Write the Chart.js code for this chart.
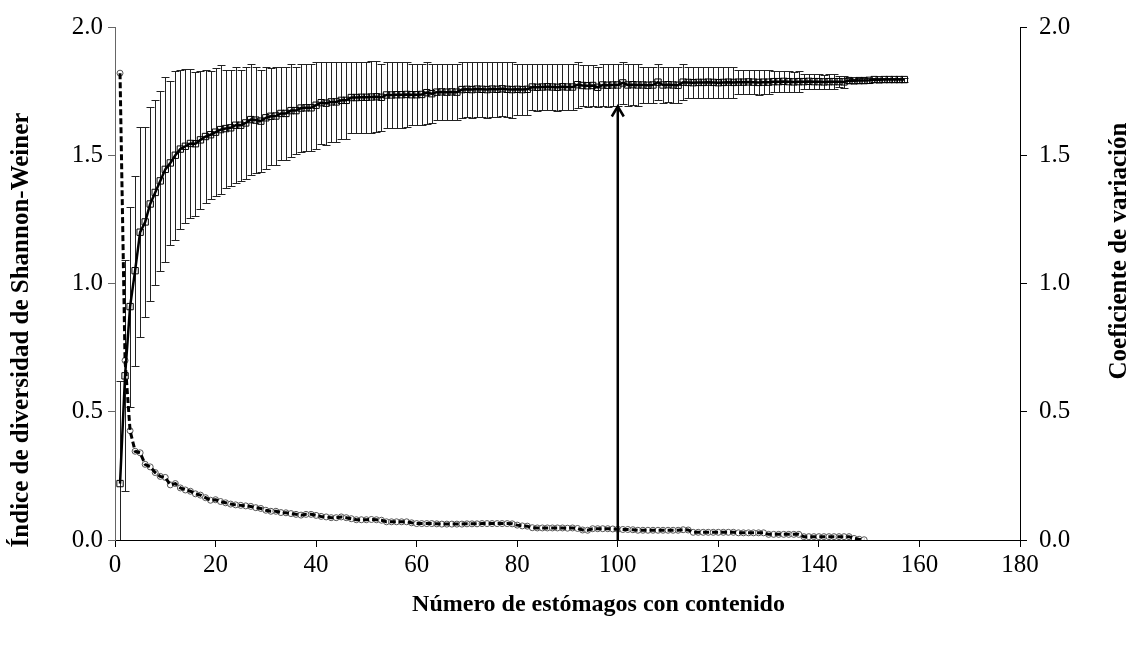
<!DOCTYPE html>
<html>
<head>
<meta charset="utf-8">
<script src="https://cdn.jsdelivr.net/npm/chart.js@4.4.1/dist/chart.umd.min.js"></script>
<style>
  html, body { margin: 0; padding: 0; background: #ffffff; }
  #wrap { width: 1133px; height: 645px; }
</style>
</head>
<body>
<div id="wrap"><canvas id="grafico" width="1133" height="645"></canvas></div>
<script>
// Número de estómagos con contenido (eje X)
const estomagos = [
  1,2,3,4,5,6,7,8,9,10,11,12,13,14,15,16,17,18,19,20,
  21,22,23,24,25,26,27,28,29,30,31,32,33,34,35,36,37,38,39,40,
  41,42,43,44,45,46,47,48,49,50,51,52,53,54,55,56,57,58,59,60,
  61,62,63,64,65,66,67,68,69,70,71,72,73,74,75,76,77,78,79,80,
  81,82,83,84,85,86,87,88,89,90,91,92,93,94,95,96,97,98,99,100,
  101,102,103,104,105,106,107,108,109,110,111,112,113,114,115,116,117,118,119,120,
  121,122,123,124,125,126,127,128,129,130,131,132,133,134,135,136,137,138,139,140,
  141,142,143,144,145,146,147,148,149,150,151,152,153,154,155,156,157
];

// Índice de diversidad de Shannon-Weiner (media acumulada)
const shannonMedia = [
  0.22,0.64,0.91,1.05,1.20,1.24,1.31,1.355,1.40,1.445,
  1.47,1.50,1.524,1.535,1.546,1.545,1.56,1.573,1.58,1.59,
  1.60,1.604,1.607,1.617,1.617,1.626,1.639,1.637,1.633,1.646,
  1.652,1.653,1.663,1.663,1.674,1.674,1.684,1.685,1.685,1.695,
  1.705,1.703,1.708,1.708,1.714,1.714,1.725,1.725,1.726,1.726,
  1.727,1.728,1.726,1.735,1.735,1.736,1.736,1.737,1.736,1.736,
  1.737,1.744,1.740,1.746,1.747,1.746,1.747,1.746,1.756,1.757,
  1.756,1.758,1.757,1.756,1.758,1.757,1.759,1.757,1.756,1.757,
  1.756,1.757,1.766,1.765,1.766,1.767,1.766,1.765,1.767,1.766,
  1.766,1.775,1.772,1.771,1.772,1.765,1.774,1.773,1.774,1.774,
  1.782,1.774,1.775,1.774,1.774,1.773,1.774,1.785,1.774,1.775,
  1.774,1.773,1.785,1.784,1.783,1.784,1.784,1.785,1.784,1.783,
  1.784,1.785,1.784,1.785,1.785,1.786,1.785,1.784,1.785,1.785,
  1.787,1.787,1.788,1.787,1.786,1.787,1.787,1.788,1.787,1.787,
  1.786,1.787,1.787,1.787,1.786,1.791,1.790,1.791,1.791,1.792,
  1.795,1.794,1.795,1.795,1.795,1.795,1.795
];

// Desviación estándar del índice (barras de error)
const shannonDE = [
  0.40,0.45,0.39,0.37,0.41,0.37,0.38,0.36,0.35,0.36,
  0.32,0.33,0.31,0.30,0.29,0.28,0.27,0.26,0.25,0.25,
  0.25,0.23,0.225,0.226,0.216,0.217,0.216,0.206,0.20,0.20,
  0.19,0.19,0.18,0.18,0.18,0.17,0.171,0.17,0.17,0.17,
  0.16,0.162,0.157,0.157,0.15,0.15,0.14,0.14,0.139,0.139,
  0.139,0.138,0.13,0.13,0.13,0.129,0.129,0.128,0.12,0.12,
  0.119,0.121,0.116,0.11,0.109,0.11,0.109,0.11,0.109,0.108,
  0.109,0.107,0.108,0.109,0.107,0.108,0.106,0.108,0.109,0.10,
  0.10,0.10,0.090,0.091,0.090,0.089,0.090,0.091,0.089,0.090,
  0.090,0.090,0.080,0.081,0.080,0.078,0.082,0.083,0.082,0.082,
  0.083,0.082,0.081,0.082,0.069,0.070,0.069,0.071,0.069,0.068,
  0.069,0.070,0.070,0.059,0.060,0.060,0.059,0.060,0.061,0.060,
  0.059,0.060,0.060,0.048,0.048,0.048,0.048,0.048,0.048,0.048,
  0.040,0.040,0.040,0.040,0.040,0.040,0.028,0.028,0.028,0.028,
  0.028,0.028,0.028,0.022,0.022,0.009,0.009,0.009,0.009,0.009,
  0.008,0.008,0.008,0.008,0.008,0.008,0.008
];

// Coeficiente de variación (eje secundario)
const coefVariacion = [
  1.82,0.70,0.426,0.346,0.34,0.295,0.285,0.263,0.248,0.244,
  0.215,0.22,0.203,0.195,0.19,0.18,0.175,0.165,0.155,0.157,
  0.15,0.145,0.14,0.137,0.135,0.133,0.131,0.126,0.123,0.116,
  0.112,0.112,0.107,0.106,0.103,0.10,0.097,0.10,0.10,0.096,
  0.092,0.09,0.087,0.087,0.09,0.087,0.083,0.079,0.079,0.079,
  0.08,0.079,0.077,0.071,0.071,0.071,0.071,0.071,0.067,0.064,
  0.064,0.064,0.064,0.063,0.062,0.062,0.062,0.062,0.062,0.063,
  0.063,0.063,0.064,0.064,0.064,0.064,0.064,0.064,0.063,0.058,
  0.055,0.054,0.048,0.047,0.047,0.047,0.047,0.047,0.047,0.046,
  0.047,0.045,0.039,0.038,0.044,0.044,0.044,0.044,0.043,0.042,
  0.041,0.041,0.040,0.038,0.038,0.038,0.038,0.038,0.038,0.038,
  0.038,0.038,0.040,0.039,0.030,0.030,0.030,0.030,0.030,0.030,
  0.030,0.030,0.030,0.028,0.028,0.028,0.028,0.028,0.028,0.022,
  0.022,0.022,0.022,0.022,0.022,0.022,0.013,0.013,0.013,0.013,
  0.013,0.013,0.013,0.013,0.013,0.013,0.006,0.003,0.001
];

// Marcas de los ejes
const marcasX = [0,20,40,60,80,100,120,140,160,180];
const marcasY = [0.0,0.5,1.0,1.5,2.0];

// Flecha que señala la estabilización de la curva
const flechaX = 100;
const flechaDesde = 0;
const flechaHasta = 1.69;

const tituloX = 'Número de estómagos con contenido';
const tituloY = 'Índice de diversidad de Shannon-Weiner';
const tituloY2 = 'Coeficiente de variación';

const FUENTE = '"Liberation Serif", "Times New Roman", serif';

// Barras de error (± desviación estándar) bajo la curva del índice
const barrasError = {
  id: 'barrasError',
  beforeDatasetsDraw(chart) {
    const { ctx, chartArea, scales } = chart;
    const meta = chart.getDatasetMeta(0);
    ctx.save();
    ctx.beginPath();
    ctx.rect(chartArea.left, chartArea.top, chartArea.right - chartArea.left, chartArea.bottom - chartArea.top);
    ctx.clip();
    ctx.strokeStyle = '#222';
    ctx.lineWidth = 1;
    meta.data.forEach((pt, i) => {
      const x = Math.round(pt.x) + 0.5;
      const yTop = Math.round(scales.y.getPixelForValue(shannonMedia[i] + shannonDE[i])) + 0.5;
      const yBot = Math.round(scales.y.getPixelForValue(shannonMedia[i] - shannonDE[i])) + 0.5;
      ctx.beginPath();
      ctx.moveTo(x, yTop); ctx.lineTo(x, yBot);
      ctx.moveTo(x - 4, yTop); ctx.lineTo(x + 4, yTop);
      ctx.moveTo(x - 4, yBot); ctx.lineTo(x + 4, yBot);
      ctx.stroke();
    });
    ctx.restore();
  }
};

// Flecha vertical
const flecha = {
  id: 'flecha',
  afterDatasetsDraw(chart) {
    const { ctx, scales } = chart;
    const x = scales.x.getPixelForValue(flechaX);
    const y0 = scales.y.getPixelForValue(flechaDesde);
    const y1 = scales.y.getPixelForValue(flechaHasta);
    ctx.save();
    ctx.strokeStyle = '#000';
    ctx.lineWidth = 2.5;
    ctx.beginPath();
    ctx.moveTo(x, y0); ctx.lineTo(x, y1);
    ctx.stroke();
    ctx.lineJoin = 'miter';
    ctx.beginPath();
    ctx.moveTo(x - 6, y1 + 10); ctx.lineTo(x, y1); ctx.lineTo(x + 6, y1 + 10);
    ctx.stroke();
    ctx.restore();
  }
};

// Títulos de los ejes
const titulos = {
  id: 'titulos',
  afterDraw(chart) {
    const { ctx, chartArea } = chart;
    ctx.save();
    ctx.fillStyle = '#000';
    ctx.textAlign = 'center';
    ctx.textBaseline = 'middle';
    ctx.font = 'bold 24px ' + FUENTE;
    ctx.fillText(tituloX, (chartArea.left + chartArea.right) / 2 + 31, chartArea.bottom + 65);
    ctx.font = 'bold 25px ' + FUENTE;
    ctx.save();
    ctx.translate(chartArea.left - 93, chartArea.top + 303);
    ctx.rotate(-Math.PI / 2);
    ctx.fillText(tituloY, 0, 0);
    ctx.restore();
    ctx.save();
    ctx.translate(chartArea.right + 100, chartArea.top + 224);
    ctx.rotate(-Math.PI / 2);
    ctx.fillText(tituloY2, 0, 0);
    ctx.restore();
    ctx.restore();
  }
};

const ejeY = (pos, ancho, color, pad) => ({
  type: 'linear',
  position: pos,
  min: 0,
  max: 2,
  afterBuildTicks(scale) { scale.ticks = marcasY.map(v => ({ value: v })); },
  afterFit(scale) { scale.width = ancho; },
  ticks: {
    color: '#000',
    padding: pad,
    font: { family: FUENTE, size: 25 },
    callback: v => Number(v).toFixed(1)
  },
  grid: { display: true, drawOnChartArea: false, drawTicks: true, tickLength: 7, color: color, tickColor: color },
  border: { display: true, color: color, width: 1 }
});

const puntosCV = coefVariacion.map((v, i) => ({ x: estomagos[i], y: v }));

new Chart(document.getElementById('grafico'), {
  type: 'scatter',
  data: {
    datasets: [
      {
        label: tituloY,
        order: 0,
        data: estomagos.map((n, i) => ({ x: n, y: shannonMedia[i] })),
        yAxisID: 'y',
        showLine: true,
        borderColor: '#000',
        borderWidth: 2.5,
        tension: 0,
        pointStyle: 'rect',
        pointRadius: 4.5,
        pointBorderWidth: 1,
        pointBorderColor: '#000',
        pointBackgroundColor: 'rgba(255,255,255,0)'
      },
      {
        // línea discontinua del coeficiente, sobre los marcadores
        label: tituloY2,
        order: 1,
        data: puntosCV,
        yAxisID: 'y2',
        showLine: true,
        borderColor: '#000',
        borderWidth: 3,
        borderDash: [6, 3],
        tension: 0,
        pointRadius: 0
      },
      {
        // marcadores circulares del coeficiente
        label: tituloY2,
        order: 2,
        data: puntosCV,
        yAxisID: 'y2',
        showLine: false,
        pointStyle: 'circle',
        pointRadius: 3,
        pointBorderWidth: 1,
        pointBorderColor: '#555',
        pointBackgroundColor: '#fff'
      }
    ]
  },
  options: {
    responsive: false,
    animation: false,
    devicePixelRatio: 1,
    events: [],
    layout: { padding: { top: 20, left: 0, right: 0, bottom: 0 } },
    plugins: { legend: { display: false }, tooltip: { enabled: false } },
    scales: {
      x: {
        type: 'linear',
        min: 0,
        max: 180,
        afterBuildTicks(scale) { scale.ticks = marcasX.map(v => ({ value: v })); },
        afterFit(scale) { scale.height = 105; },
        ticks: { color: '#000', padding: 3, font: { family: FUENTE, size: 25 } },
        grid: { display: true, drawOnChartArea: false, drawTicks: true, tickLength: 7, color: '#000', tickColor: '#000' },
        border: { display: true, color: '#000', width: 1 }
      },
      y: ejeY('left', 115, '#666', 5),
      y2: ejeY('right', 113, '#000', 12)
    }
  },
  plugins: [barrasError, flecha, titulos]
});
</script>
</body>
</html>
